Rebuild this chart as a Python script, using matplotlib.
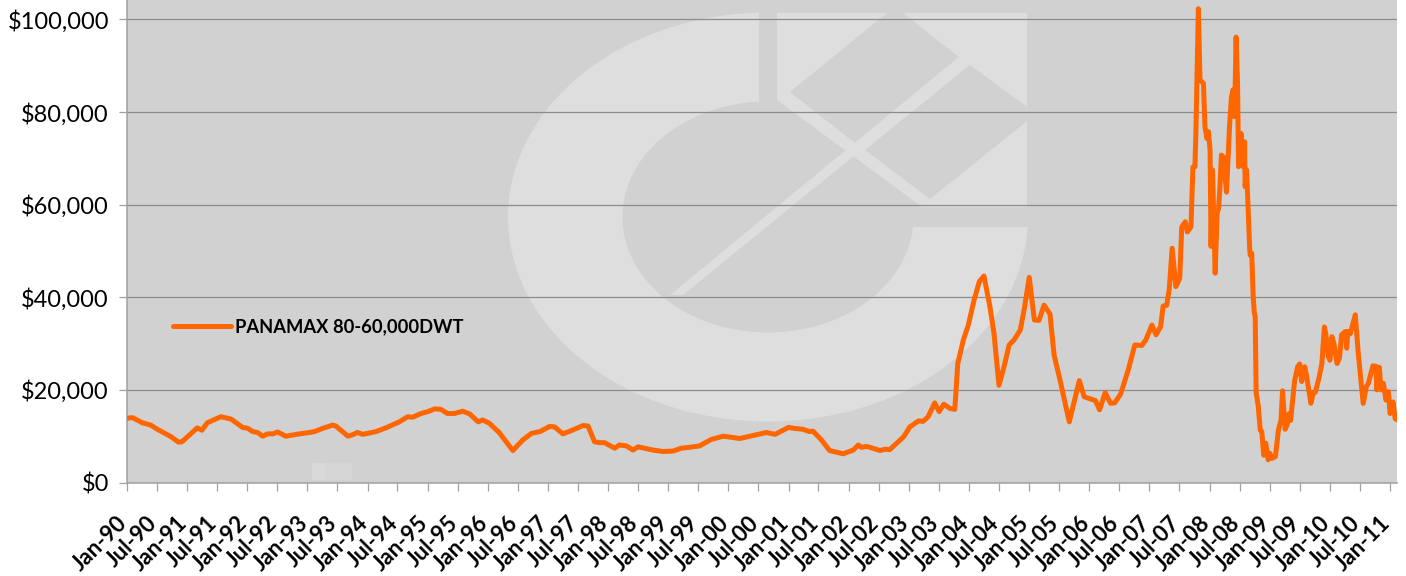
import matplotlib
matplotlib.use("Agg")
import matplotlib.pyplot as plt
import matplotlib.dates as mdates
import matplotlib.transforms as mtransforms
import numpy as np
import pandas as pd
from matplotlib.patches import Polygon, Rectangle
from matplotlib.ticker import FuncFormatter

plt.rcParams["font.family"] = ["Lato", "DejaVu Sans"]

# Panamax 80-60,000 DWT time-charter rate, USD per day
series_name = "PANAMAX 80-60,000DWT"

dates = [
    "1990-01-01", "1990-02-04", "1990-04-04", "1990-05-25", "1990-07-04", "1990-09-25",
    "1990-11-10", "1990-12-01", "1991-03-04", "1991-04-01", "1991-05-04", "1991-07-25",
    "1991-09-25", "1991-12-04", "1992-01-04", "1992-02-04", "1992-03-04", "1992-04-04",
    "1992-05-04", "1992-06-04", "1992-07-04", "1992-08-22", "1992-11-13", "1993-01-13",
    "1993-02-13", "1993-04-04", "1993-06-04", "1993-06-22", "1993-09-04", "1993-10-01",
    "1993-11-01", "1993-12-01", "1994-01-01", "1994-02-22", "1994-04-22", "1994-07-13",
    "1994-09-01", "1994-10-01", "1994-11-22", "1995-01-01", "1995-02-13", "1995-03-22",
    "1995-05-01", "1995-06-13", "1995-08-01", "1995-09-13", "1995-11-04", "1995-12-01",
    "1996-01-10", "1996-03-10", "1996-06-01", "1996-08-01", "1996-09-22", "1996-11-13",
    "1997-01-10", "1997-02-10", "1997-04-01", "1997-05-22", "1997-08-01", "1997-09-01",
    "1997-10-10", "1997-11-10", "1997-12-10", "1998-02-10", "1998-03-10", "1998-04-22",
    "1998-06-01", "1998-07-01", "1998-10-01", "1998-12-01", "1999-02-01", "1999-03-19",
    "1999-05-10", "1999-07-10", "1999-09-19", "1999-12-01", "2000-03-10", "2000-08-19",
    "2000-10-10", "2001-01-01", "2001-02-01", "2001-03-28", "2001-05-07", "2001-05-28",
    "2001-07-19", "2001-09-07", "2001-11-28", "2002-01-28", "2002-02-28", "2002-03-19",
    "2002-04-19", "2002-05-19", "2002-07-10", "2002-08-10", "2002-09-07", "2002-12-01",
    "2003-01-07", "2003-02-28", "2003-03-28", "2003-04-28", "2003-06-07", "2003-07-04",
    "2003-08-01", "2003-09-07", "2003-10-07", "2003-10-25", "2003-11-28", "2003-12-28",
    "2004-02-01", "2004-03-04", "2004-04-01", "2004-05-07", "2004-06-01", "2004-07-01",
    "2004-08-01", "2004-09-01", "2004-10-01", "2004-11-07", "2004-12-01", "2005-01-01",
    "2005-02-01", "2005-03-01", "2005-04-01", "2005-05-07", "2005-06-01", "2005-07-07",
    "2005-09-01", "2005-11-01", "2005-12-01", "2006-02-07", "2006-03-04", "2006-04-07",
    "2006-05-10", "2006-06-04", "2006-07-10", "2006-08-25", "2006-10-04", "2006-11-16",
    "2006-12-10", "2007-01-16", "2007-02-10", "2007-03-10", "2007-03-25", "2007-04-16",
    "2007-05-01", "2007-05-19", "2007-06-10", "2007-07-04", "2007-07-16", "2007-08-07",
    "2007-08-19", "2007-09-10", "2007-09-22", "2007-10-04", "2007-10-10", "2007-10-25",
    "2007-11-04", "2007-11-25", "2007-12-04", "2007-12-16", "2007-12-25", "2008-01-04",
    "2008-01-10", "2008-01-19", "2008-02-04", "2008-02-16", "2008-02-25", "2008-03-04",
    "2008-03-13", "2008-03-25", "2008-04-13", "2008-05-01", "2008-05-13", "2008-05-22",
    "2008-06-01", "2008-06-10", "2008-06-19", "2008-06-25", "2008-07-10", "2008-07-22",
    "2008-08-01", "2008-08-04", "2008-08-13", "2008-09-01", "2008-09-04", "2008-09-13",
    "2008-09-22", "2008-09-28", "2008-10-04", "2008-10-10", "2008-10-22", "2008-11-04",
    "2008-11-13", "2008-11-25", "2008-12-07", "2008-12-22", "2009-01-01", "2009-01-13",
    "2009-02-04", "2009-02-22", "2009-03-10", "2009-03-19", "2009-04-04", "2009-04-16",
    "2009-04-28", "2009-05-07", "2009-05-19", "2009-06-01", "2009-06-19", "2009-07-01",
    "2009-07-13", "2009-08-01", "2009-08-13", "2009-09-07", "2009-09-22", "2009-10-04",
    "2009-10-28", "2009-11-13", "2009-11-28", "2009-12-07", "2009-12-22", "2010-01-01",
    "2010-01-13", "2010-01-25", "2010-02-13", "2010-02-28", "2010-03-13", "2010-04-04",
    "2010-04-13", "2010-04-19", "2010-05-04", "2010-06-04", "2010-06-22", "2010-07-22",
    "2010-08-10", "2010-08-22", "2010-09-19", "2010-10-07", "2010-10-13", "2010-10-28",
    "2010-11-07", "2010-11-22", "2010-12-07", "2010-12-22", "2011-01-01", "2011-01-19",
    "2011-02-01", "2011-02-14",
]

rates = [
    13900, 14000, 12900, 12400, 11500, 9900,
    8700, 8800, 11800, 11300, 12900, 14200,
    13700, 11900, 11700, 11000, 10800, 10000,
    10500, 10500, 10900, 10000, 10500, 10800,
    11000, 11700, 12400, 12200, 10000, 10300,
    10800, 10400, 10600, 11000, 11800, 13100,
    14200, 14100, 14900, 15300, 15900, 15800,
    14900, 14900, 15400, 14800, 13100, 13500,
    12800, 10800, 6900, 9200, 10600, 11000,
    12100, 12000, 10500, 11200, 12300, 12200,
    8800, 8600, 8600, 7400, 8100, 7900,
    7000, 7700, 7000, 6700, 6800, 7400,
    7600, 7900, 9300, 10000, 9500, 10800,
    10400, 11900, 11700, 11500, 11000, 11100,
    9200, 6900, 6200, 7000, 8100, 7600,
    7800, 7500, 6900, 7200, 7100, 9900,
    12000, 13300, 13200, 14200, 17200, 15300,
    16900, 16000, 15800, 25700, 30800, 34000,
    39400, 43400, 44600, 38000, 32200, 21000,
    25000, 29700, 30800, 32900, 37300, 44300,
    35100, 35000, 38300, 36400, 27500, 22100,
    13100, 22000, 18500, 17700, 15700, 19400,
    17100, 17200, 19100, 24300, 29700, 29600,
    30800, 34000, 31900, 33700, 38100, 38300,
    41700, 50600, 42300, 44100, 55200, 56300,
    54100, 55200, 68100, 68200, 75700, 102300,
    86900, 86200, 76800, 74300, 75800, 71800,
    51000, 67500, 45200, 58100, 59300, 63900,
    70700, 70300, 62700, 76800, 83300, 84800,
    79000, 96200, 86200, 68200, 75400, 68200,
    73600, 63900, 67500, 50200, 49100, 49500,
    40100, 36900, 35800, 19300, 16700, 11300,
    11000, 5900, 8500, 4900, 6300, 5200,
    5600, 11300, 13500, 19800, 11500, 12400,
    14900, 13400, 17600, 22100, 25000, 25600,
    21800, 25000, 22800, 17100, 19300, 19500,
    22800, 25700, 33600, 32100, 27200, 26400,
    31500, 30000, 25700, 26900, 31900, 32600,
    29000, 32600, 32100, 36200, 27900, 17100,
    20700, 21400, 25200, 25100, 20000, 24900,
    20000, 21400, 17800, 19600, 14900, 17400,
    13800, 13500,
]

y_ticks = [0, 20000, 40000, 60000, 80000, 100000]

W, H = 1406, 576
fig = plt.figure(figsize=(W / 100, H / 100), dpi=100)
ax = fig.add_axes([127 / W, 93.5 / H, 1270.3 / W, 482.5 / H])

BG = "#D1D1D1"
LOGO = "#DEDEDE"
ax.set_facecolor(BG)


def px(points):
    """Figure-pixel (x right, y down) points -> figure fraction."""
    return [(x / W, 1 - y / H) for x, y in points]


def add_shape(points, color):
    poly = Polygon(px(points), closed=True, transform=fig.transFigure,
                   facecolor=color, edgecolor="none", zorder=0.2)
    ax.add_patch(poly)
    poly.set_clip_path(ax.patch)


# faded company logo behind the plot: an open "C" ring with a boxed arrow
cx, cy = 768.0, 217.0
ao, bo, ai, bi = 260.0, 204.5, 145.5, 115.5
t_out = np.radians(np.linspace(92, 357.2, 200))
t_in = np.radians(np.linspace(355, 93.5, 200))
ring = [(cx + ao * np.cos(t), cy - bo * np.sin(t)) for t in t_out]
ring += [(cx + ai * np.cos(t), cy - bi * np.sin(t)) for t in t_in]
add_shape(ring, LOGO)

add_shape([(777, 13), (1027, 13), (1027, 207), (922, 207), (777, 100)], LOGO)
add_shape([(790, 92), (887, 13), (903, 13), (960, 58), (855, 143)], BG)
add_shape([(970, 65), (1027, 107), (1027, 121), (930, 199), (865, 150)], BG)
add_shape([(670, 295), (683, 295), (968, 63), (960, 56)], LOGO)

# faint remnant near the lower edge
for x0, w, c in ((312, 14, "#D9D9D9"), (326, 26, "#D5D5D5")):
    r = Rectangle((x0 / W, 1 - 480 / H), w / W, 17 / H, transform=fig.transFigure,
                  facecolor=c, edgecolor="none", zorder=0.2)
    ax.add_patch(r)
    r.set_clip_path(ax.patch)

x = pd.to_datetime(dates)
ax.plot(x, rates, color="#FF6600", lw=3.6, solid_joinstyle="round",
        solid_capstyle="round", label=series_name, zorder=3)

ax.set_xlim(pd.Timestamp("1990-01-01"), pd.Timestamp("2011-02-14"))
ax.set_ylim(0, 104200)
ax.set_yticks(y_ticks)
ax.yaxis.set_major_formatter(FuncFormatter(lambda v, p: f"${v:,.0f}"))
ax.grid(axis="y", color="#8C8C8C", lw=0.9)
ax.set_axisbelow(True)

ax.xaxis.set_major_locator(mdates.MonthLocator(bymonth=[1, 7]))
ax.xaxis.set_major_formatter(mdates.DateFormatter("%b-%y"))

for side in ("top", "right"):
    ax.spines[side].set_visible(False)
for side in ("left", "bottom"):
    ax.spines[side].set_color("#A0A0A0")
    ax.spines[side].set_linewidth(1.1)

ax.tick_params(axis="both", direction="out", length=6, width=0.9, color="#A0A0A0")
ax.tick_params(axis="y", labelsize=17, pad=7, labelcolor="black")
ax.tick_params(axis="x", labelsize=16, pad=21, labelcolor="black")
shift = mtransforms.ScaledTranslation(-3 / 100, 0, fig.dpi_scale_trans)
for lbl in ax.get_xticklabels():
    lbl.set_rotation(45)
    lbl.set_ha("right")
    lbl.set_va("center")
    lbl.set_rotation_mode("anchor")
    lbl.set_fontweight("bold")
    lbl.set_transform(lbl.get_transform() + shift)

ax.legend(loc="center left", bbox_to_anchor=(0.036, 0.322), frameon=False,
          prop={"weight": "bold", "size": 13.2}, handlelength=3.2,
          handletextpad=0.22, borderpad=0, borderaxespad=0)

fig.savefig("out.png", dpi=100, facecolor="white")
